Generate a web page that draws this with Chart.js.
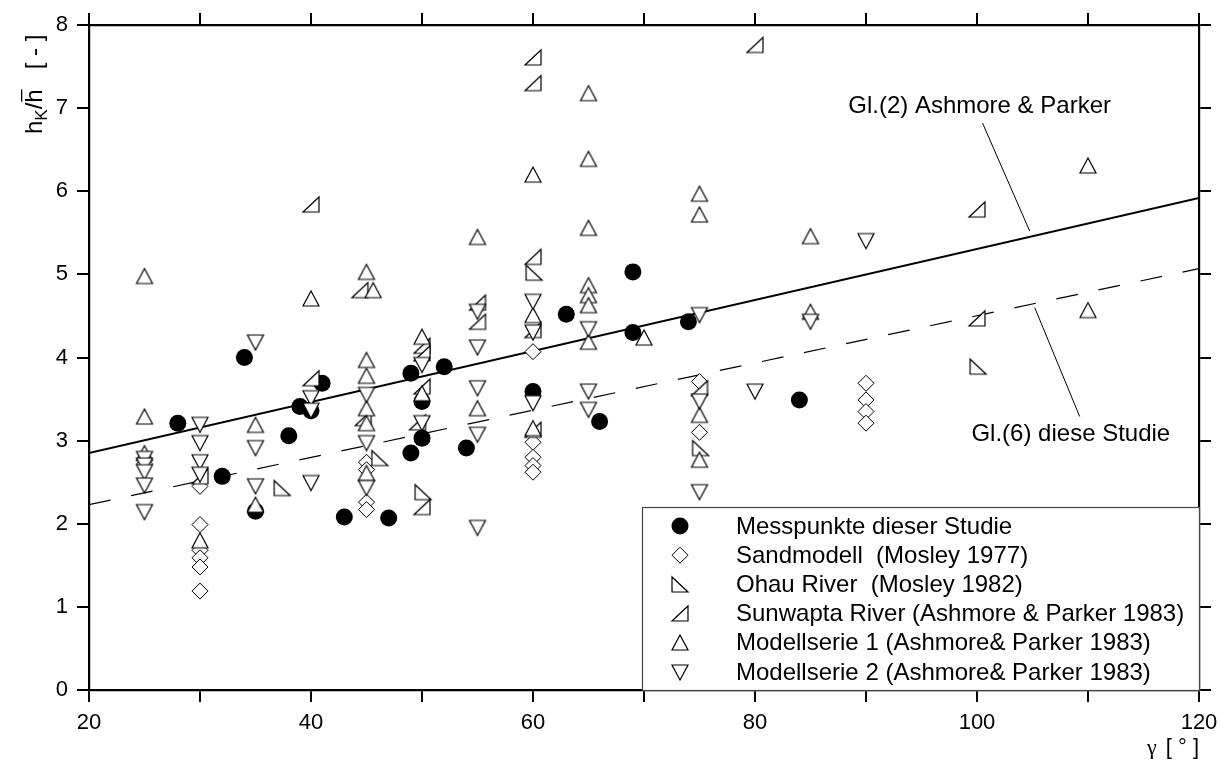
<!DOCTYPE html>
<html>
<head>
<meta charset="utf-8">
<script src="https://cdn.jsdelivr.net/npm/chart.js@4.4.1/dist/chart.umd.min.js"></script>
<style>
  html, body { margin: 0; padding: 0; background: #fff; }
</style>
</head>
<body>
<canvas id="chart" width="1228" height="763"></canvas>
<script>
// measured points [gamma, hK/h]
const messpunkte = [[28,3.21],[32,2.57],[34,4.0],[35,2.15],[38,3.06],[39,3.41],[40,3.36],[41,3.69],[43,2.08],[47,2.07],[49,3.81],[49,2.85],[50,3.47],[50,3.03],[52,3.89],[54,2.91],[60,3.59],[63,4.52],[66,3.23],[69,5.03],[69,4.30],[74,4.43],[84,3.49]];
const sandmodell = [[25,2.72],[30,2.45],[30,1.99],[30,1.68],[30,1.59],[30,1.48],[30,1.19],[45,2.74],[45,2.65],[45,2.26],[45,2.17],[60,4.07],[60,2.98],[60,2.80],[60,2.70],[60,2.62],[75,3.71],[75,3.10],[90,3.69],[90,3.49],[90,3.35],[90,3.21]];
const ohauRiver = [[37.4,2.43],[46.2,2.79],[50.1,2.38],[60.1,5.02],[75.1,2.91],[100.1,3.89]];
const sunwapta = [[30,2.57],[40,5.84],[40,3.75],[44.4,4.81],[44.7,3.27],[50,4.14],[50,4.05],[50,3.65],[49.6,3.22],[50,2.20],[55,4.66],[55,4.43],[60,7.61],[60,7.30],[60,5.21],[60,4.33],[60,3.13],[75,3.63],[80,7.76],[100,5.78],[100,4.47]];
const modellserie1 = [[25,4.98],[25,3.29],[25,2.85],[30,1.80],[35,3.19],[35,2.23],[40,4.71],[45,5.03],[45.6,4.81],[45,3.97],[45,3.78],[45,3.39],[45,3.21],[45,2.61],[50,4.25],[50,3.57],[55,5.45],[55,3.39],[60,6.20],[60,4.51],[60,3.15],[65,7.18],[65,6.39],[65,5.56],[65,4.87],[65,4.75],[65,4.63],[65,4.19],[70,4.24],[75,5.97],[75,5.72],[75,3.31],[75,2.77],[85,5.46],[85,4.55],[110,6.31],[110,4.57]];
const modellserie2 = [[25,2.78],[25,2.70],[25,2.62],[25,2.46],[25,2.14],[30,3.19],[30,2.97],[30,2.74],[30,2.59],[35,4.18],[35,2.91],[35,2.45],[40,3.51],[40,3.36],[40,2.49],[45,3.55],[45,2.97],[45,2.43],[50,3.91],[50,3.21],[55,4.55],[55,4.12],[55,3.63],[55,3.07],[55,1.95],[60,4.67],[60,4.30],[60,3.45],[65,4.34],[65,3.59],[65,3.37],[75,4.51],[75,3.47],[75,2.38],[80,3.59],[85,4.43],[90,5.40]];

// regression lines
const lineX = [20, 120];
const glAshmoreY = [2.85, 5.92];
const glStudieY = [2.23, 5.07];

// annotation pointer lines and labels (data units)
const pointerAshmore = [[100.5, 6.82], [104.75, 5.52]];
const pointerStudie = [[105.2, 4.60], [109.25, 3.29]];
const labelAshmore = { text: "Gl.(2) Ashmore & Parker", x: 88.4, y: 7.02 };
const labelStudie = { text: "Gl.(6) diese Studie", x: 99.5, y: 3.07 };

const legendLabels = [
  "Messpunkte dieser Studie",
  "Sandmodell  (Mosley 1977)",
  "Ohau River  (Mosley 1982)",
  "Sunwapta River (Ashmore & Parker 1983)",
  "Modellserie 1 (Ashmore& Parker 1983)",
  "Modellserie 2 (Ashmore& Parker 1983)"
];

const SANS = '"Liberation Sans", Arial, sans-serif';

function makeShape(kind) {
  const w = 16, h = 15;
  const c = document.createElement("canvas");
  c.width = w + 4;
  c.height = h + 4;
  const g = c.getContext("2d");
  const l = 2, t = 2, r = l + w, b = t + h;
  g.beginPath();
  if (kind === "up") { g.moveTo((l + r) / 2, t); g.lineTo(r, b); g.lineTo(l, b); }
  else if (kind === "down") { g.moveTo(l, t); g.lineTo(r, t); g.lineTo((l + r) / 2, b); }
  else if (kind === "ohau") { g.moveTo(l, t); g.lineTo(l, b); g.lineTo(r, b); }
  else { g.moveTo(r, t); g.lineTo(r, b); g.lineTo(l, b); }
  g.closePath();
  g.fillStyle = "#fff";
  g.fill();
  g.lineWidth = 1.2;
  g.strokeStyle = "#000";
  g.stroke();
  return c;
}

const triUp = makeShape("up");
const triDown = makeShape("down");
const triOhau = makeShape("ohau");
const triSun = makeShape("sun");

const toXY = (arr) => arr.map((p) => ({ x: p[0], y: p[1] }));

function pointSet(label, arr, style, order, extra) {
  return Object.assign({
    label: label,
    data: toXY(arr),
    pointStyle: style,
    pointRadius: 9,
    backgroundColor: "#fff",
    borderColor: "#000",
    pointBorderWidth: 1,
    order: order
  }, extra || {});
}

function lineSet(xs, ys, width, dash) {
  return {
    data: xs.map((x, i) => ({ x: x, y: ys[i] })),
    showLine: true,
    pointRadius: 0,
    borderColor: "#000",
    borderWidth: width,
    borderDash: dash,
    fill: false,
    order: 20
  };
}

const datasets = [
  lineSet(lineX, glAshmoreY, 2, []),
  lineSet(lineX, glStudieY, 1.2, [22, 21]),
  lineSet(pointerAshmore.map((p) => p[0]), pointerAshmore.map((p) => p[1]), 1, []),
  lineSet(pointerStudie.map((p) => p[0]), pointerStudie.map((p) => p[1]), 1, []),
  pointSet(legendLabels[0], messpunkte, "circle", 6, { pointRadius: 8.5, backgroundColor: "#000", pointBorderWidth: 0 }),
  pointSet(legendLabels[1], sandmodell, "rectRot", 5, { pointRadius: 8 }),
  pointSet(legendLabels[2], ohauRiver, triOhau, 4),
  pointSet(legendLabels[3], sunwapta, triSun, 3),
  pointSet(legendLabels[4], modellserie1, triUp, 2),
  pointSet(legendLabels[5], modellserie2, triDown, 1)
];

const legendStyles = [
  { style: "circle", fill: "#000", r: 8.5 },
  { style: "rectRot", fill: "#fff", r: 8 },
  { img: triOhau },
  { img: triSun },
  { img: triUp },
  { img: triDown }
];

const overlay = {
  id: "overlay",
  afterDatasetsDraw(chart) {
    const { ctx, chartArea: a, scales } = chart;
    const xs = scales.x, ys = scales.y;
    ctx.save();

    // legend box
    const bl = a.right - 557, bt = a.bottom - 183;
    ctx.fillStyle = "#fff";
    ctx.fillRect(bl, bt, a.right - bl, a.bottom - bt);
    ctx.strokeStyle = "#444";
    ctx.lineWidth = 1.2;
    ctx.strokeRect(bl + 0.5, bt + 0.5, a.right - bl, a.bottom - bt);
    ctx.font = "24px " + SANS;
    ctx.textBaseline = "middle";
    ctx.textAlign = "left";
    legendLabels.forEach((txt, i) => {
      const cy = bt + 19 + i * 29.2;
      const cx = bl + 38;
      const s = legendStyles[i];
      if (s.img) {
        ctx.drawImage(s.img, Math.round(cx - s.img.width / 2), Math.round(cy - s.img.height / 2));
      } else {
        ctx.fillStyle = s.fill;
        ctx.strokeStyle = "#000";
        ctx.lineWidth = 1;
        Chart.helpers.drawPoint(ctx, { pointStyle: s.style, radius: s.r, rotation: 0, borderWidth: s.fill === "#000" ? 0 : 1 }, cx, cy);
      }
      ctx.fillStyle = "#000";
      ctx.fillText(txt, bl + 94, cy + 1);
    });

    // annotation labels
    ctx.fillStyle = "#000";
    ctx.fillText(labelAshmore.text, xs.getPixelForValue(labelAshmore.x), ys.getPixelForValue(labelAshmore.y));
    ctx.fillText(labelStudie.text, xs.getPixelForValue(labelStudie.x), ys.getPixelForValue(labelStudie.y));

    // y axis title: h_K / h-bar  [ - ]
    ctx.save();
    ctx.translate(42, 134);
    ctx.rotate(-Math.PI / 2);
    ctx.textBaseline = "alphabetic";
    let px = 0;
    ctx.font = "24px " + SANS;
    ctx.fillText("h", px, 0);
    px += ctx.measureText("h").width;
    ctx.font = "17px " + SANS;
    ctx.fillText("K", px, 5);
    px += ctx.measureText("K").width;
    ctx.font = "24px " + SANS;
    ctx.fillText("/", px, 0);
    px += ctx.measureText("/").width;
    const hw = ctx.measureText("h").width;
    ctx.fillText("h", px, 0);
    ctx.fillRect(px + 1, -21, hw - 1, 1.3);
    px += hw;
    ctx.fillText("   [ - ]", px, 0);
    ctx.restore();

    // x axis title
    ctx.textBaseline = "alphabetic";
    ctx.font = "22px \"Liberation Serif\", serif";
    ctx.fillText("\u03b3", a.right - 52, 754);
    ctx.font = "22px " + SANS;
    ctx.textAlign = "right";
    ctx.fillText("[ \u00b0 ]", a.right, 754);
    ctx.restore();
  }
};

const tickGrid = { drawOnChartArea: false, drawTicks: true, tickLength: 12, color: "#000", lineWidth: 2 };
const axisBorder = { display: true, color: "#000", width: 2.2 };
const tickFont = { family: SANS, size: 22 };

new Chart(document.getElementById("chart").getContext("2d"), {
  type: "scatter",
  data: { datasets: datasets },
  options: {
    responsive: false,
    animation: false,
    devicePixelRatio: 1,
    events: [],
    layout: { padding: 0 },
    plugins: { legend: { display: false }, tooltip: { enabled: false } },
    scales: {
      x: {
        type: "linear", position: "bottom", min: 20, max: 120,
        ticks: { stepSize: 10, autoSkip: false, maxRotation: 0, color: "#000", font: tickFont, padding: 8,
          callback: (v) => (v % 20 === 0 ? v : "") },
        grid: tickGrid, border: axisBorder,
        afterFit: (s) => { s.height = 73; }
      },
      x2: {
        type: "linear", position: "top", min: 20, max: 120,
        ticks: { stepSize: 10, display: false },
        grid: tickGrid, border: axisBorder,
        afterFit: (s) => { s.height = 25; }
      },
      y: {
        type: "linear", position: "left", min: 0, max: 8,
        ticks: { stepSize: 1, color: "#000", font: tickFont, padding: 9 },
        grid: tickGrid, border: axisBorder,
        afterFit: (s) => { s.width = 89; }
      },
      y2: {
        type: "linear", position: "right", min: 0, max: 8,
        ticks: { stepSize: 1, display: false },
        grid: tickGrid, border: axisBorder,
        afterFit: (s) => { s.width = 29; }
      }
    }
  },
  plugins: [overlay]
});
</script>
</body>
</html>
